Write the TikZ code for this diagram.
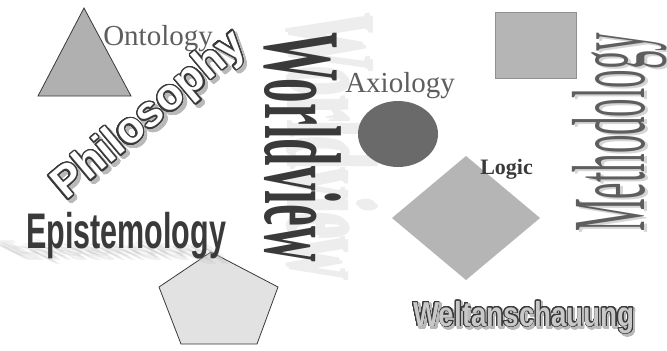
\documentclass[tikz,border=0pt]{standalone}
\usepackage{fontspec}
\setmainfont{Liberation Serif}
\newfontfamily\artsans{Liberation Sans}
\usepackage{contour}
\contournumber{32}

\definecolor{shapegray}{HTML}{B5B5B5}
\definecolor{inkgray}{HTML}{5E5E5E}
\definecolor{darkink}{HTML}{3A3A3A}
\definecolor{pentagray}{HTML}{E2E2E2}
\definecolor{ballgray}{HTML}{6A6A6A}
\definecolor{weltgray}{HTML}{C8C8C8}

\tikzstyle{word} = [inner sep=0pt,anchor=base west,transform shape]
\tikzstyle{serifword} = [word,text=inkgray,font=\fontsize{21.75}{24}\selectfont]
\tikzstyle{artword} = [word,font=\artsans\bfseries]
\tikzstyle{shade} = [text=gray!55]
\tikzstyle{ghost} = [text=gray!14]
\tikzstyle{flatshade} = [artword,text=gray!50,opacity=0.22,xslant=-2,xscale=0.63,yscale=0.4,font=\artsans\bfseries\fontsize{37.5}{40}\selectfont]

\begin{document}
\begin{tikzpicture}[x=0.75pt,y=-0.75pt]
		\fill[white] (0,0) rectangle (667,350);
		\useasboundingbox (0,0) rectangle (667,350);
		% ghost of worldview
		\node[word,ghost,rotate=-90,xscale=0.45,font=\bfseries\fontsize{95}{100}\selectfont] (worldghost) at (287,12) {Worldview};
		\node[word,ghost,rotate=-90,xscale=0.45,font=\bfseries\fontsize{95}{100}\selectfont] (worldghostb) at (290,15) {Worldview};
		% shapes
		\filldraw[fill=shapegray!90!gray,draw=darkink,line width=0.6pt] (84,8) -- (131,96) -- (38,96) -- cycle;
		\filldraw[fill=pentagray,draw=darkink,line width=0.6pt] (211,252) -- (278,287) -- (257,344) -- (181,344) -- (159,287) -- cycle;
		\fill[ballgray] (398,134) ellipse [x radius=30pt,y radius=24.75pt];
		\fill[shapegray] (392,218) -- (466,156) -- (540,218) -- (466,280) -- cycle;
		\filldraw[fill=shapegray,draw=shapegray!80!black,line width=0.3pt] (495,12) rectangle (576,78);
		% worldview
		\node[word,rotate=-90,xscale=0.45,text=darkink,font=\bfseries\fontsize{82}{90}\selectfont] (world) at (265,32) {Worldview};
		% serif labels
		\node[serifword] (onto) at (103,45) {Ontology};
		\node[serifword] (axio) at (345,92) {Axiology};
		\node[word,text=darkink,font=\bfseries\fontsize{16.5}{18}\selectfont] (logic) at (480,174) {Logic};
		% methodology
		\node[word,shade,opacity=0.6,rotate=90,xscale=0.355,font=\fontsize{78}{84}\selectfont] (methshade) at (647,234) {Methodology};
		\node[word,rotate=90,xscale=0.355,text=inkgray,font=\fontsize{78}{84}\selectfont] (meth) at (644,232) {Methodology};
		% epistemology and its blurred shadow
		\node[flatshade] (epishade) at (22,258) {Epistemology};
		\node[flatshade] (epishadeb) at (19,256) {Epistemology};
		\node[flatshade] (epishadec) at (25,260) {Epistemology};
		\node[flatshade] (epishaded) at (21,254) {Epistemology};
		\node[artword,text=darkink,xscale=0.61,font=\artsans\bfseries\fontsize{37.5}{40}\selectfont] (episto) at (26,248) {Epistemology};
		% philosophy
		\node[artword,shade,rotate=40,font=\artsans\bfseries\fontsize{33}{36}\selectfont] (philshade) at (69,204) {\contourlength{1.3pt}\contour{gray!55}{Philosophy}};
		\node[artword,text=white,rotate=40,font=\artsans\bfseries\fontsize{33}{36}\selectfont] (phil) at (66,201) {\contourlength{1pt}\contour{darkink}{Philosophy}};
		% weltanschauung
		\node[artword,shade,xscale=0.8,font=\artsans\bfseries\fontsize{26}{30}\selectfont] (weltshade) at (415,328) {\contourlength{1pt}\contour{gray!55}{Weltanschauung}};
		\node[artword,text=weltgray,xscale=0.8,font=\artsans\bfseries\fontsize{26}{30}\selectfont] (welt) at (413,326) {\contourlength{0.7pt}\contour{darkink}{Weltanschauung}};
\end{tikzpicture}
\end{document}
